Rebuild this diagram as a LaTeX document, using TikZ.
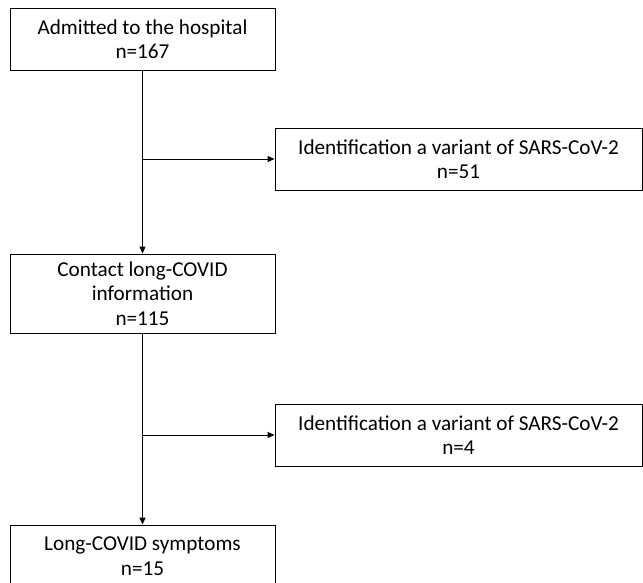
\documentclass[tikz,border=0pt]{standalone}
\usepackage{fontspec}
\setmainfont{Carlito}
\usetikzlibrary{arrows.meta}

\begin{document}
\begin{tikzpicture}[x=1pt,y=-1pt,
    box/.style={draw,line width=0.9pt,minimum width=265pt,inner sep=0pt,
      align=center,font=\fontsize{21.2}{24.5}\selectfont},
    widebox/.style={box,minimum width=367pt,minimum height=62pt},
    arr/.style={-{Triangle[length=7pt,width=6pt]},line width=0.9pt}]
    \clip (0,0) rectangle (643,582);
    \node[box,minimum height=62pt] (admit) at (142.5,39) {Admitted to the hospital\\n=167};
    \node[widebox] (var1) at (458.5,159) {Identification a variant of SARS-CoV-2\\n=51};
    \node[box,minimum height=79pt] (contact) at (142.5,293.5) {Contact long-COVID\\information\\n=115};
    \node[widebox] (var2) at (458.5,435) {Identification a variant of SARS-CoV-2\\n=4};
    \node[box,minimum height=62pt] (long) at (142.5,556) {Long-COVID symptoms\\n=15};
    \coordinate (b1) at (admit.south |- var1.west);
    \coordinate (b2) at (contact.south |- var2.west);
    \draw[arr] (admit.south) -- (contact.north);
    \draw[arr] (b1) -- (var1.west);
    \draw[arr] (contact.south) -- (long.north);
    \draw[arr] (b2) -- (var2.west);
  \end{tikzpicture}
\end{document}
